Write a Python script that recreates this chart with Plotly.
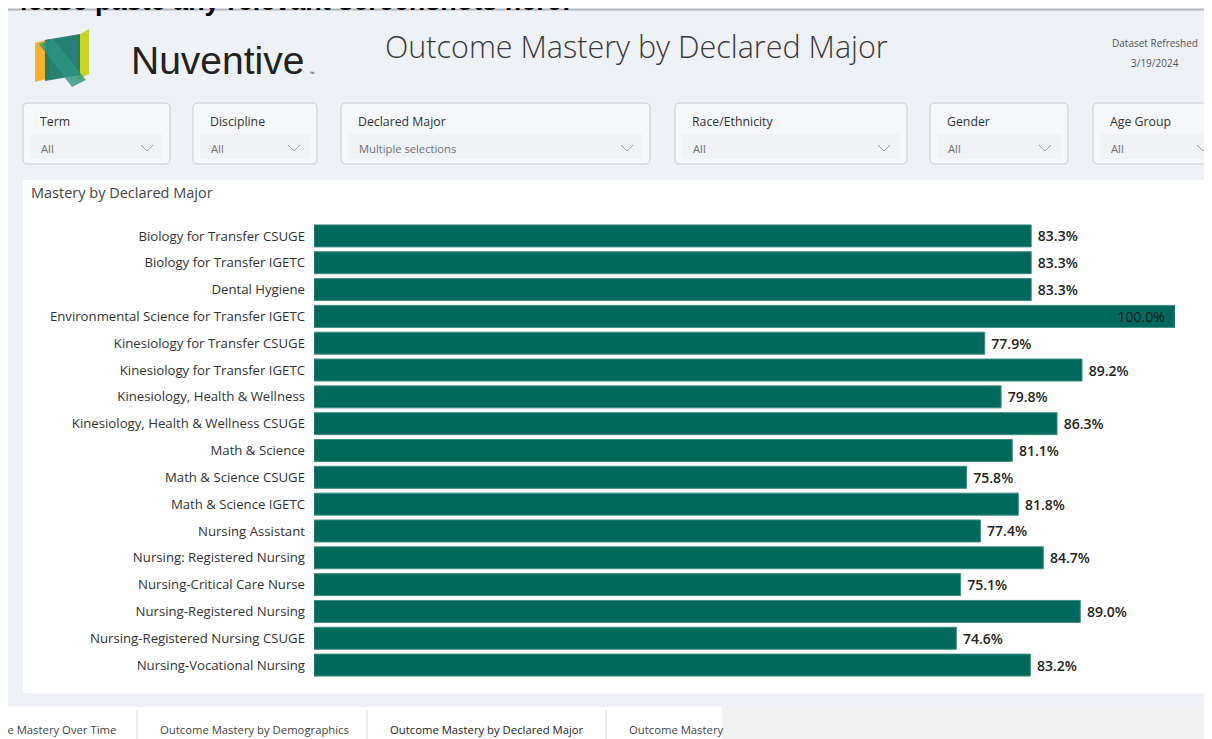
import plotly.graph_objects as go

# reference page size; the browser places the figure 8px in from the top-left corner
W, H = 1212, 739
OX, OY = 8, 8
FW, FH = W - OX, H - OY

# ---------------- data ----------------
majors = [
    "Biology for Transfer CSUGE",
    "Biology for Transfer IGETC",
    "Dental Hygiene",
    "Environmental Science for Transfer IGETC",
    "Kinesiology for Transfer CSUGE",
    "Kinesiology for Transfer IGETC",
    "Kinesiology, Health & Wellness",
    "Kinesiology, Health & Wellness CSUGE",
    "Math & Science",
    "Math & Science CSUGE",
    "Math & Science IGETC",
    "Nursing Assistant",
    "Nursing: Registered Nursing",
    "Nursing-Critical Care Nurse",
    "Nursing-Registered Nursing",
    "Nursing-Registered Nursing CSUGE",
    "Nursing-Vocational Nursing",
]
mastery = [83.3, 83.3, 83.3, 100.0, 77.9, 89.2, 79.8, 86.3, 81.1, 75.8,
           81.8, 77.4, 84.7, 75.1, 89.0, 74.6, 83.2]

slicer_titles = ["Term", "Discipline", "Declared Major", "Race/Ethnicity", "Gender", "Age Group"]
slicer_values = ["All", "All", "Multiple selections", "All", "All", "All"]
tab_names = ["Outcome Mastery Over Time", "Outcome Mastery by Demographics",
             "Outcome Mastery by Declared Major", "Outcome Mastery"]

page_title = "Outcome Mastery by Declared Major"
chart_title = "Mastery by Declared Major"
refresh_label = "Dataset Refreshed"
refresh_date = "3/19/2024"
paste_note = "Please paste any relevant screenshots here:"

# ---------------- helpers ----------------
FONT = "Open Sans"


def X(x):
    return (x - OX) / FW


def Y(y):
    return 1 - (y - OY) / FH


def rect(x0, y0, x1, y1, fill, line=None, lw=0, layer="below"):
    return dict(type="rect", xref="paper", yref="paper",
                x0=X(x0), x1=X(x1), y0=Y(y1), y1=Y(y0),
                fillcolor=fill, line=dict(width=lw, color=line or fill), layer=layer)


def rrect(x0, y0, x1, y1, r, fill, line, lw=1, layer="below"):
    def p(x, y):
        return f"{X(x):.5f},{Y(y):.5f}"
    path = (f"M {p(x0 + r, y0)} L {p(x1 - r, y0)} Q {p(x1, y0)} {p(x1, y0 + r)} "
            f"L {p(x1, y1 - r)} Q {p(x1, y1)} {p(x1 - r, y1)} "
            f"L {p(x0 + r, y1)} Q {p(x0, y1)} {p(x0, y1 - r)} "
            f"L {p(x0, y0 + r)} Q {p(x0, y0)} {p(x0 + r, y0)} Z")
    return dict(type="path", xref="paper", yref="paper", path=path,
                fillcolor=fill, line=dict(width=lw, color=line), layer=layer)


def poly(points, fill, opacity=1.0, layer="below"):
    d = "M " + " L ".join(f"{X(x):.5f},{Y(y):.5f}" for x, y in points) + " Z"
    return dict(type="path", xref="paper", yref="paper", path=d,
                fillcolor=fill, opacity=opacity, line=dict(width=0), layer=layer)


def polyline(points, color, lw=1, layer="above"):
    d = "M " + " L ".join(f"{X(x):.5f},{Y(y):.5f}" for x, y in points)
    return dict(type="path", xref="paper", yref="paper", path=d,
                line=dict(width=lw, color=color), layer=layer)


def txt(x, y, s, size, color, xanchor="left", weight=400, family=FONT):
    return dict(x=X(x), y=Y(y), xref="paper", yref="paper", text=s, showarrow=False,
                xanchor=xanchor, yanchor="middle",
                font=dict(size=size, color=color, family=family, weight=weight))


shapes = []
ann = []

BG = "#EEF1F5"
# dashboard canvas
shapes.append(rect(6, 9, W, 707, BG))
shapes.append(dict(type="line", xref="paper", yref="paper", x0=X(6), x1=X(W), y0=Y(9.5), y1=Y(9.5),
                   line=dict(color="#B4B8BE", width=2), layer="below"))

# note text above the pasted screenshot (cut off by the page top)
ann.append(txt(0, 1, paste_note, 27, "#000000", weight=700, family="Liberation Sans"))

# logo
shapes.append(poly([(35, 43), (50, 39), (50, 78), (35, 82)], "#F5B231"))
shapes.append(poly([(77, 36), (89, 29), (89, 74), (77, 80)], "#C6D52C"))
shapes.append(poly([(45, 40), (80, 34), (80, 75), (45, 81)], "#127366", 0.9))
shapes.append(poly([(39, 44), (53, 39), (86, 80), (72, 87)], "#2A9581", 0.8))
ann.append(txt(129, 61, "Nuventive", 39, "#222222", weight=400, family="Liberation Sans"))
ann.append(txt(308, 74, "™", 6, "#444444"))

# header
ann.append(txt(636, 46, page_title, 30.5, "#3A3A3A", xanchor="center", weight=300))
ann.append(txt(1155, 43, refresh_label, 10, "#555555", xanchor="center"))
ann.append(txt(1155, 63, refresh_date, 10, "#555555", xanchor="center"))

# slicers
slicer_x = [(23, 170), (193, 317), (341, 650), (675, 907), (930, 1068), (1093, 1226)]
for (x0, x1), t, v in zip(slicer_x, slicer_titles, slicer_values):
    shapes.append(rrect(x0, 103, x1, 164, 5, "#F5F7FA", "#C9CDD3", 1))
    shapes.append(rect(x0 + 7, 134, x1 - 7, 159, "#F0F2F5"))
    ann.append(txt(x0 + 15, 121, t, 12.3, "#333333"))
    ann.append(txt(x0 + 16, 148, v, 11.2, "#707070"))
    cx = x1 - 23
    shapes.append(polyline([(cx - 6, 145), (cx, 151), (cx + 6, 145)], "#A0A0A0", 1))

# chart panel
shapes.append(rect(23, 180, W, 693, "#FFFFFF"))
ann.append(txt(29, 192, chart_title, 14.5, "#444444"))

# bottom tabs
shapes.append(rect(0, 707, 722, H, "#FFFFFF"))
shapes.append(rect(722, 707, W, H, "#F1F1F1"))
for sx in (137, 367, 606):
    shapes.append(dict(type="line", xref="paper", yref="paper", x0=X(sx), x1=X(sx),
                       y0=Y(H), y1=Y(710), line=dict(color="#DDDDDD", width=1), layer="below"))
tab_pos = [(118, "right"), (158, "left"), (388, "left"), (627, "left")]
for (tx, anc), name in zip(tab_pos, tab_names):
    col = "#222222" if name == page_title else "#444444"
    ann.append(txt(tx, 729, name, 11.3, col, xanchor=anc, weight=500 if name == page_title else 400))

# ---------------- traces ----------------
fig = go.Figure()

labels = [(f"{v:.1f}%  " if v >= 99.5 else f" {v:.1f}%") for v in mastery]
positions = ["inside" if v >= 99.5 else "outside" for v in mastery]

fig.add_trace(go.Bar(
    x=mastery, y=majors, orientation="h",
    marker=dict(color="#00695C", line=dict(color="#3E8E82", width=1)),
    text=labels, textposition=positions, insidetextanchor="end",
    textangle=0, cliponaxis=False, constraintext="none",
    outsidetextfont=dict(family=FONT, size=14, color="#252423", weight=600),
    insidetextfont=dict(family=FONT, size=14, color="#1A1A1A", weight=400),
    hoverinfo="skip", showlegend=False,
))

fig.update_layout(
    width=FW, height=FH, autosize=False,
    margin=dict(l=0, r=0, t=0, b=0, pad=0),
    paper_bgcolor="#FFFFFF", plot_bgcolor="rgba(0,0,0,0)",
    bargap=0.18,
    xaxis=dict(domain=[X(314), X(1175)], range=[0, 100], visible=False, fixedrange=True),
    yaxis=dict(domain=[Y(678.5), Y(222.5)], categoryorder="array", categoryarray=majors,
               autorange="reversed", showgrid=False, showline=False, zeroline=False,
               ticks="", ticklabelstandoff=8,
               tickfont=dict(family=FONT, size=13.2, color="#333333")),
    shapes=shapes, annotations=ann,
)

fig.write_html("out.html")
